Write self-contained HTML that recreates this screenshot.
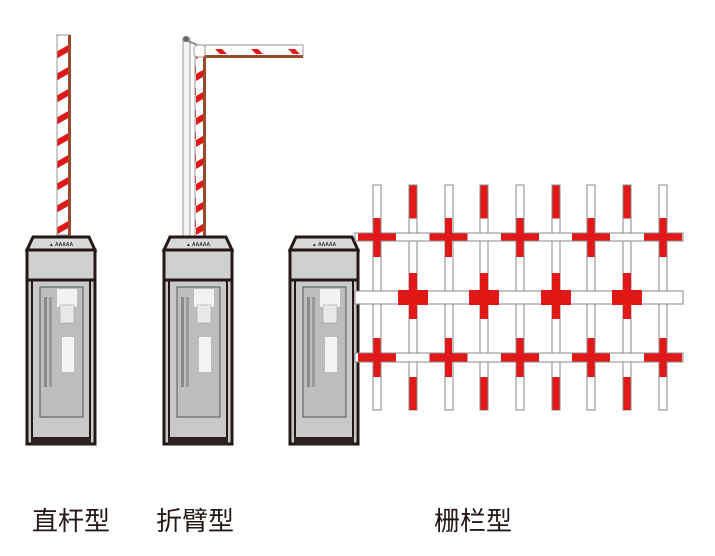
<!DOCTYPE html>
<html><head><meta charset="utf-8"><style>
html,body{margin:0;padding:0;background:#fff;width:715px;height:556px;overflow:hidden}
</style></head><body>
<svg width="715" height="556" viewBox="0 0 715 556" xmlns="http://www.w3.org/2000/svg">
<defs>
<g id="cab">
  <polygon points="6,0 62,0 68,13 0,13" fill="#d8d8d8" stroke="#231815" stroke-width="3"/>
  <rect x="0" y="13" width="68" height="30" fill="#d0d0d0" stroke="#231815" stroke-width="3"/>
  <rect x="0" y="43" width="68" height="164" fill="#c9c9c9" stroke="#231815" stroke-width="3"/>
  <rect x="5" y="43" width="58" height="164" fill="none" stroke="#231815" stroke-width="2"/>
  <rect x="4" y="200" width="60" height="8" fill="#2a2220"/>
  <rect x="13" y="50" width="43" height="130" fill="#bdbdbd" stroke="#555" stroke-width="1"/>
  <rect x="30" y="52" width="20" height="18" fill="#f2f2f2"/>
  <rect x="33" y="68" width="14" height="18" fill="#e8e8e8" stroke="#999" stroke-width="0.5"/>
  <rect x="35" y="100" width="12" height="35" fill="#f4f4f4"/>
  <rect x="17" y="60" width="3" height="90" fill="#8a8a8a"/>
  <rect x="22" y="60" width="3" height="90" fill="#9a9a9a"/>
  <text x="34" y="9" font-family="Liberation Sans,sans-serif" font-size="5" font-weight="bold" text-anchor="middle" fill="#333">▲ AAAAA</text>
</g>
<pattern id="stripeV" width="14" height="22" patternUnits="userSpaceOnUse">
  <rect width="14" height="22" fill="#fff"/>
  <polygon points="0,8 14,0 14,7 0,15" fill="#e01818"/>
</pattern>
</defs>

<rect x="57" y="35" width="13" height="200" fill="url(#stripeV)" stroke="#999" stroke-width="1"/>
<rect x="68" y="35" width="3" height="200" fill="#9a4a2a"/>

<rect x="183" y="38" width="7" height="200" fill="#f4f4f4" stroke="#999" stroke-width="1"/>
<line x1="186" y1="40" x2="204" y2="48" stroke="#888" stroke-width="2"/>
<circle cx="186" cy="39" r="3" fill="#666"/>
<rect x="195" y="48" width="10" height="190" fill="url(#stripeV)" stroke="#999" stroke-width="1"/>
<rect x="203" y="50" width="3" height="188" fill="#9a4a2a"/>
<rect x="194" y="45" width="12" height="12" rx="4" fill="#fff" stroke="#999"/>
<rect x="205" y="45" width="98" height="11" fill="#fff" stroke="#999"/>
<rect x="205" y="55" width="98" height="3" fill="#9a4a2a"/>
<polygon points="215,49 222,49 227,54 220,54" fill="#e01818"/>
<polygon points="251,49 258,49 263,54 256,54" fill="#e01818"/>
<polygon points="288,49 295,49 300,54 293,54" fill="#e01818"/>

<use href="#cab" x="27" y="237"/>
<use href="#cab" x="164" y="237"/>
<use href="#cab" x="290" y="237"/>

<g stroke="#888" stroke-width="1">
  <g fill="#fff">
    <rect x="373" y="185" width="8" height="225"/>
    <rect x="409" y="185" width="8" height="225"/>
    <rect x="445" y="185" width="8" height="225"/>
    <rect x="480" y="185" width="8" height="225"/>
    <rect x="516" y="185" width="8" height="225"/>
    <rect x="552" y="185" width="8" height="225"/>
    <rect x="587" y="185" width="8" height="225"/>
    <rect x="623" y="185" width="8" height="225"/>
    <rect x="659" y="185" width="8" height="225"/>
  </g>
  <g fill="#fff">
    <rect x="355" y="233" width="328" height="8"/>
    <rect x="355" y="291" width="328" height="13"/>
    <rect x="355" y="353" width="328" height="9"/>
  </g>
</g>
<g fill="#e01818">
  <g id="tc">
    <rect x="373.5" y="218" width="7" height="39"/>
    <rect x="358" y="233.5" width="38" height="7"/>
  </g>
  <use href="#tc" x="71.5"/><use href="#tc" x="143"/><use href="#tc" x="214"/><use href="#tc" x="286"/>
  <rect x="409.5" y="185.5" width="7" height="33"/>
  <rect x="480.5" y="185.5" width="7" height="33"/>
  <rect x="552.5" y="185.5" width="7" height="33"/>
  <rect x="623.5" y="185.5" width="7" height="33"/>
  <g id="bc">
    <rect x="373.5" y="338" width="7" height="39"/>
    <rect x="358" y="353.5" width="38" height="8"/>
  </g>
  <use href="#bc" x="71.5"/><use href="#bc" x="143"/><use href="#bc" x="214"/><use href="#bc" x="286"/>
  <rect x="409.5" y="377" width="7" height="33"/>
  <rect x="480.5" y="377" width="7" height="33"/>
  <rect x="552.5" y="377" width="7" height="33"/>
  <rect x="623.5" y="377" width="7" height="33"/>
  <g id="mc">
    <rect x="409" y="273" width="8" height="46"/>
    <rect x="398" y="290" width="30" height="15"/>
  </g>
  <use href="#mc" x="71"/><use href="#mc" x="143"/><use href="#mc" x="214"/>
</g>

<g font-family="Liberation Sans,'Noto Sans CJK SC',sans-serif" font-size="26" fill="#231815">
  <text x="32" y="530">直杆型</text>
  <text x="156" y="530">折臂型</text>
  <text x="434" y="530">栅栏型</text>
</g>
</svg>
</body></html>
